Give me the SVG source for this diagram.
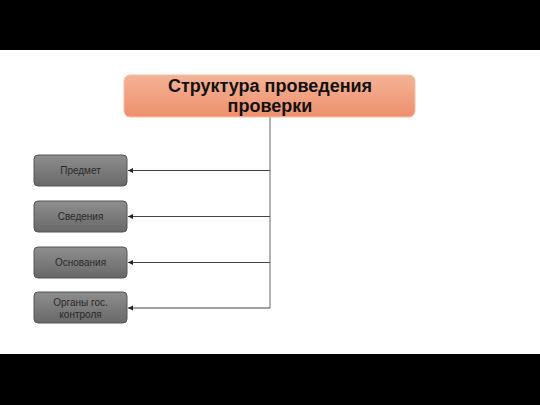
<svg xmlns="http://www.w3.org/2000/svg" width="540" height="405" viewBox="0 0 540 405">
<defs>
<linearGradient id="og" x1="0" y1="0" x2="0" y2="1"><stop offset="0" stop-color="#f4b396"/><stop offset="1" stop-color="#ef8f6c"/></linearGradient>
<linearGradient id="gg" x1="0" y1="0" x2="0" y2="1"><stop offset="0" stop-color="#8e8e8e"/><stop offset="1" stop-color="#686868"/></linearGradient>
<marker id="ah" markerWidth="6" markerHeight="6" refX="5" refY="3" orient="auto" markerUnits="userSpaceOnUse"><path d="M0,0.5 L5,3 L0,5.5 z" fill="#222"/></marker>
<style>
.sb{fill:url(#gg);stroke:#555;stroke-width:1}
.st{font-family:"Liberation Sans",Arial,sans-serif;font-size:10px;fill:#2a2a2a;text-anchor:middle}
.cn{stroke:#8a8a8a;stroke-width:1.3;fill:none}
.ar{stroke:#444;stroke-width:1;fill:none;marker-end:url(#ah)}
</style>
</defs>
<rect x="0" y="0" width="540" height="405" fill="#fff"/>
<rect x="0" y="0" width="540" height="50" fill="#000"/>
<rect x="0" y="354" width="540" height="51" fill="#000"/>
<g id="connectors">
<path class="cn" d="M270,117 V308"/>
<path class="ar" d="M270,170.5 H128"/>
<path class="ar" d="M270,216.5 H128"/>
<path class="ar" d="M270,262.5 H128"/>
<path class="ar" d="M270,308 H128"/>
</g>
<g id="main">
<rect x="124" y="75" width="291" height="42" rx="6" fill="url(#og)" stroke="#f0c0a8" stroke-width="1"/>
<text x="270" y="92" font-family="'Liberation Sans',Arial,sans-serif" font-size="18" font-weight="bold" fill="#111" text-anchor="middle">Структура проведения</text>
<text x="270" y="112" font-family="'Liberation Sans',Arial,sans-serif" font-size="18" font-weight="bold" fill="#111" text-anchor="middle">проверки</text>
</g>
<g id="n1"><rect class="sb" x="34" y="155" width="93" height="31" rx="4"/><text class="st" x="80.5" y="174">Предмет</text></g>
<g id="n2"><rect class="sb" x="34" y="201" width="93" height="31" rx="4"/><text class="st" x="80.5" y="220">Сведения</text></g>
<g id="n3"><rect class="sb" x="34" y="247" width="93" height="31" rx="4"/><text class="st" x="80.5" y="266">Основания</text></g>
<g id="n4"><rect class="sb" x="34" y="292" width="93" height="31" rx="4"/><text class="st" x="80.5" y="306">Органы гос.</text><text class="st" x="80.5" y="318">контроля</text></g>
</svg>
